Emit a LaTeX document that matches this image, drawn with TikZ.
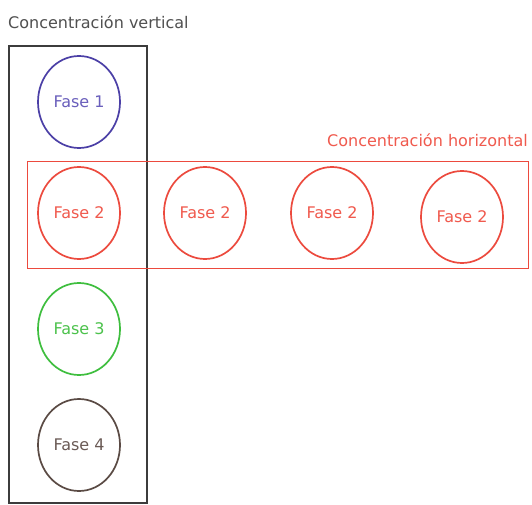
\documentclass[tikz,border=0pt]{standalone}
\usepackage{fontspec}
\setmainfont{DejaVu Sans}
\usetikzlibrary{shapes.geometric}
\definecolor{frame}{HTML}{3C3C3C}
\definecolor{phaseA}{HTML}{4B3FA6}
\definecolor{phaseAtext}{HTML}{6A5FBC}
\definecolor{phaseB}{HTML}{EC4A3E}
\definecolor{phaseBtext}{HTML}{F05A4E}
\definecolor{phaseC}{HTML}{3EBE3E}
\definecolor{phaseCtext}{HTML}{4CC24C}
\definecolor{phaseD}{HTML}{5A4A44}
\definecolor{phaseDtext}{HTML}{6A5A55}
\tikzset{
  phase/.style={ellipse, draw, line width=1.7pt, minimum width=82pt, minimum height=92pt,
                inner sep=0pt, font=\fontsize{16}{18}\selectfont},
  caption/.style={font=\fontsize{16}{18}\selectfont, inner sep=0pt}
}
\begin{document}
\begin{tikzpicture}[x=1pt,y=-1pt]
  \useasboundingbox[fill=white] (0,0) rectangle (532,505);
  % column of phases
  \draw[frame, line width=1.5pt] (9,46) rectangle (147,503);
  % row of phases
  \draw[phaseB, line width=1pt] (27,162) rectangle (528,268);
  \node[caption, anchor=west, text=frame!90] (vcap) at (8,22) {Concentración vertical};
  \node[caption, anchor=east, text=phaseBtext] (hcap) at (528,140) {Concentración horizontal};
  \node[phase, draw=phaseA, text=phaseAtext] (f1) at (79,102) {Fase 1};
  \node[phase, draw=phaseB, text=phaseBtext] (f2a) at (79,213) {Fase 2};
  \node[phase, draw=phaseB, text=phaseBtext] (f2b) at (205,213) {Fase 2};
  \node[phase, draw=phaseB, text=phaseBtext] (f2c) at (332,213) {Fase 2};
  \node[phase, draw=phaseB, text=phaseBtext] (f2d) at (462,217) {Fase 2};
  \node[phase, draw=phaseC, text=phaseCtext] (f3) at (79,329) {Fase 3};
  \node[phase, draw=phaseD, text=phaseDtext] (f4) at (79,445) {Fase 4};
\end{tikzpicture}
\end{document}
